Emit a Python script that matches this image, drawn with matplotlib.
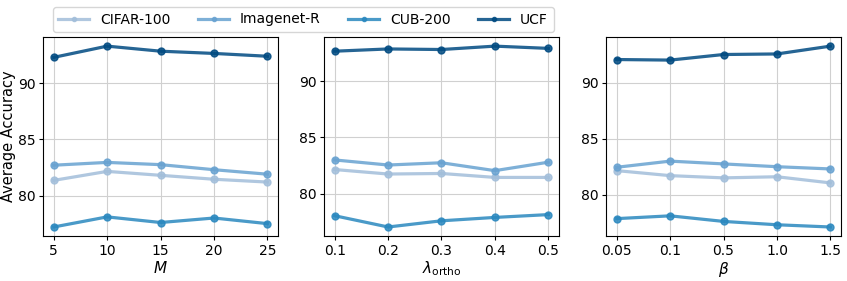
import matplotlib.pyplot as plt

# Datos
series = ['CIFAR-100', 'Imagenet-R', 'CUB-200', 'UCF']
colores = ['#a2beda', '#68a2d1', '#2a88bf', '#004a81']

m_ticks = ['5', '10', '15', '20', '25']
m_cifar = [81.35, 82.15, 81.8, 81.45, 81.2]
m_imagenet = [82.7, 82.95, 82.75, 82.3, 81.9]
m_cub = [77.2, 78.1, 77.6, 78.0, 77.5]
m_ucf = [92.3, 93.3, 92.85, 92.65, 92.4]

l_ticks = ['0.1', '0.2', '0.3', '0.4', '0.5']
l_cifar = [82.15, 81.75, 81.8, 81.45, 81.45]
l_imagenet = [83.0, 82.55, 82.75, 82.05, 82.8]
l_cub = [78.05, 77.05, 77.6, 77.9, 78.15]
l_ucf = [92.65, 92.85, 92.8, 93.1, 92.9]

b_ticks = ['0.05', '0.1', '0.5', '1.0', '1.5']
b_cifar = [82.15, 81.7, 81.5, 81.6, 81.05]
b_imagenet = [82.45, 83.0, 82.75, 82.5, 82.3]
b_cub = [77.85, 78.1, 77.6, 77.3, 77.1]
b_ucf = [92.1, 92.05, 92.55, 92.6, 93.3]

paneles = [
    (m_ticks, [m_cifar, m_imagenet, m_cub, m_ucf], r'$M$'),
    (l_ticks, [l_cifar, l_imagenet, l_cub, l_ucf], r'$\lambda_{\mathrm{ortho}}$'),
    (b_ticks, [b_cifar, b_imagenet, b_cub, b_ucf], r'$\beta$'),
]

fig = plt.figure(figsize=(8.47, 2.81), dpi=100)
lefts = [0.0508, 0.3825, 0.7155]

for i, (ticks, valores, xlabel) in enumerate(paneles):
    ax = fig.add_axes([lefts[i], 0.16, 0.2775, 0.708])
    x = list(range(len(ticks)))
    for nombre, v, c in zip(series, valores, colores):
        ax.plot(x, v, '-o', color=c, alpha=0.85, linewidth=2.3,
                markersize=5, label=nombre)
    ax.set_xticks(x)
    ax.set_xticklabels(ticks, fontsize=10)
    ax.tick_params(axis='y', labelsize=10, length=3, pad=2)
    ax.tick_params(axis='x', length=3, pad=3)
    ax.set_xlabel(xlabel, fontsize=11, labelpad=1)
    ax.grid(True, color='#d0d0d0', linewidth=0.8)
    ax.set_axisbelow(True)
    if i == 0:
        ax.set_ylabel('Average Accuracy', fontsize=10.5, labelpad=2)
        handles, labels = ax.get_legend_handles_labels()

fig.legend(handles, labels, loc='upper center', bbox_to_anchor=(0.358, 1.0),
           ncol=4, fontsize=10, markerscale=0.6, columnspacing=2.0,
           handlelength=2.2, borderpad=0.4)

plt.savefig('out.png', dpi=100)
